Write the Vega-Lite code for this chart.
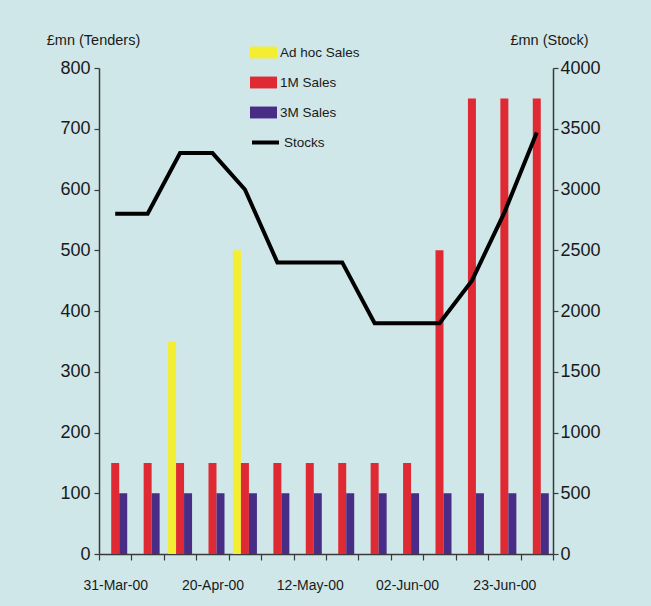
{
  "$schema": "https://vega.github.io/schema/vega-lite/v6.json",
  "width": 454,
  "height": 486,
  "autosize": "none",
  "padding": {"left": 99, "top": 68, "right": 98, "bottom": 52},
  "background": "#cfe7e9",
  "datasets": {
    "tenders": [
      {"date": "31-Mar-00", "series": "1M Sales", "tenders": 150},
      {"date": "31-Mar-00", "series": "3M Sales", "tenders": 100},
      {"date": "07-Apr-00", "series": "1M Sales", "tenders": 150},
      {"date": "07-Apr-00", "series": "3M Sales", "tenders": 100},
      {"date": "13-Apr-00", "series": "Ad hoc Sales", "tenders": 350},
      {"date": "13-Apr-00", "series": "1M Sales", "tenders": 150},
      {"date": "13-Apr-00", "series": "3M Sales", "tenders": 100},
      {"date": "20-Apr-00", "series": "1M Sales", "tenders": 150},
      {"date": "20-Apr-00", "series": "3M Sales", "tenders": 100},
      {"date": "28-Apr-00", "series": "Ad hoc Sales", "tenders": 500},
      {"date": "28-Apr-00", "series": "1M Sales", "tenders": 150},
      {"date": "28-Apr-00", "series": "3M Sales", "tenders": 100},
      {"date": "05-May-00", "series": "1M Sales", "tenders": 150},
      {"date": "05-May-00", "series": "3M Sales", "tenders": 100},
      {"date": "12-May-00", "series": "1M Sales", "tenders": 150},
      {"date": "12-May-00", "series": "3M Sales", "tenders": 100},
      {"date": "19-May-00", "series": "1M Sales", "tenders": 150},
      {"date": "19-May-00", "series": "3M Sales", "tenders": 100},
      {"date": "26-May-00", "series": "1M Sales", "tenders": 150},
      {"date": "26-May-00", "series": "3M Sales", "tenders": 100},
      {"date": "02-Jun-00", "series": "1M Sales", "tenders": 150},
      {"date": "02-Jun-00", "series": "3M Sales", "tenders": 100},
      {"date": "09-Jun-00", "series": "1M Sales", "tenders": 500},
      {"date": "09-Jun-00", "series": "3M Sales", "tenders": 100},
      {"date": "16-Jun-00", "series": "1M Sales", "tenders": 750},
      {"date": "16-Jun-00", "series": "3M Sales", "tenders": 100},
      {"date": "23-Jun-00", "series": "1M Sales", "tenders": 750},
      {"date": "23-Jun-00", "series": "3M Sales", "tenders": 100},
      {"date": "30-Jun-00", "series": "1M Sales", "tenders": 750},
      {"date": "30-Jun-00", "series": "3M Sales", "tenders": 100}
    ],
    "stocks": [
      {"date": "31-Mar-00", "stock": 2800},
      {"date": "07-Apr-00", "stock": 2800},
      {"date": "13-Apr-00", "stock": 3300},
      {"date": "20-Apr-00", "stock": 3300},
      {"date": "28-Apr-00", "stock": 3000},
      {"date": "05-May-00", "stock": 2400},
      {"date": "12-May-00", "stock": 2400},
      {"date": "19-May-00", "stock": 2400},
      {"date": "26-May-00", "stock": 1900},
      {"date": "02-Jun-00", "stock": 1900},
      {"date": "09-Jun-00", "stock": 1900},
      {"date": "16-Jun-00", "stock": 2250},
      {"date": "23-Jun-00", "stock": 2810},
      {"date": "30-Jun-00", "stock": 3470}
    ]
  },
  "config": {
    "font": "Liberation Sans, Arial, sans-serif",
    "view": {"stroke": null},
    "axis": {
      "domainColor": "#3a3a3a",
      "domainWidth": 1.5,
      "tickColor": "#3a3a3a",
      "tickWidth": 1.2,
      "tickSize": 5,
      "grid": false,
      "labelColor": "#1a1a1a",
      "labelFont": "Liberation Sans, Arial, sans-serif",
      "titleFont": "Liberation Sans, Arial, sans-serif",
      "titleColor": "#1a1a1a",
      "titleFontWeight": "normal"
    },
    "legend": {
      "labelFont": "Liberation Sans, Arial, sans-serif",
      "labelColor": "#1a1a1a"
    }
  },
  "layer": [
    {
      "data": {"name": "tenders"},
      "mark": {"type": "bar"},
      "encoding": {
        "x": {
          "field": "date",
          "type": "nominal",
          "sort": null,
          "scale": {"paddingInner": 0, "paddingOuter": 0},
          "axis": {
            "title": null,
            "tickBand": "extent",
            "tickSize": 6,
            "labelAngle": 0,
            "labelFontSize": 14,
            "labelPadding": 18,
            "labelExpr": "indexof(['31-Mar-00','20-Apr-00','12-May-00','02-Jun-00','23-Jun-00'], datum.value) >= 0 ? datum.label : ''"
          }
        },
        "xOffset": {
          "field": "series",
          "type": "nominal",
          "scale": {"domain": ["Ad hoc Sales", "1M Sales", "3M Sales"], "paddingInner": 0, "paddingOuter": 0.527}
        },
        "y": {
          "field": "tenders",
          "type": "quantitative",
          "scale": {"domain": [0, 800]},
          "axis": {
            "values": [0, 100, 200, 300, 400, 500, 600, 700, 800],
            "title": "£mn (Tenders)",
            "titleAngle": 0,
            "titleAlign": "center",
            "titleBaseline": "alphabetic",
            "titleX": -6,
            "titleY": -24,
            "titleFontSize": 14.5,
            "labelFontSize": 18,
            "labelPadding": 4
          }
        },
        "color": {
          "field": "series",
          "type": "nominal",
          "scale": {"domain": ["Ad hoc Sales", "1M Sales", "3M Sales"], "range": ["#f4ee33", "#e02a33", "#482c86"]},
          "legend": {
            "title": null,
            "orient": "none",
            "legendX": 151,
            "legendY": -29,
            "symbolType": "M-1,-0.44H1V0.44H-1Z",
            "symbolSize": 729,
            "symbolStrokeWidth": 0,
            "labelFontSize": 13.5,
            "labelOffset": 3,
            "rowPadding": 10,
            "padding": 0
          }
        }
      }
    },
    {
      "data": {"name": "stocks"},
      "mark": {"type": "line", "strokeWidth": 4, "strokeJoin": "miter"},
      "encoding": {
        "x": {"field": "date", "type": "nominal", "sort": null},
        "y": {
          "field": "stock",
          "type": "quantitative",
          "scale": {"domain": [0, 4000]},
          "axis": {
            "orient": "right",
            "values": [0, 500, 1000, 1500, 2000, 2500, 3000, 3500, 4000],
            "format": "d",
            "title": "£mn (Stock)",
            "titleAngle": 0,
            "titleAlign": "center",
            "titleBaseline": "alphabetic",
            "titleX": -4,
            "titleY": -24,
            "titleFontSize": 14.5,
            "labelFontSize": 18,
            "labelPadding": 2
          }
        },
        "stroke": {
          "datum": "Stocks",
          "type": "nominal",
          "scale": {"domain": ["Stocks"], "range": ["#000000"]},
          "legend": {
            "title": null,
            "orient": "none",
            "legendX": 151,
            "legendY": 59,
            "symbolType": "M-1,0H1",
            "symbolSize": 729,
            "symbolStrokeWidth": 4,
            "labelFontSize": 13.5,
            "labelOffset": 3,
            "padding": 0
          }
        }
      }
    }
  ],
  "resolve": {"scale": {"y": "independent"}}
}
